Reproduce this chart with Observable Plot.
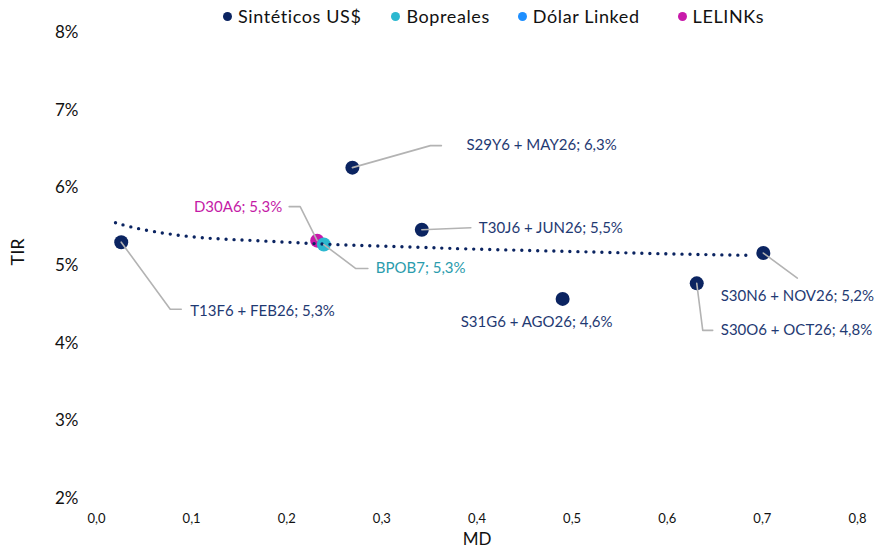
<!DOCTYPE html>
<html>
<head>
<meta charset="utf-8">
<script src="https://cdn.jsdelivr.net/npm/d3@7"></script>
<script src="https://cdn.jsdelivr.net/npm/@observablehq/plot@0.6"></script>
<style>
  html, body { margin: 0; padding: 0; background: #fff; }
  #wrap { position: relative; width: 879px; height: 549px; font-family: Lato, "Open Sans", sans-serif; }
  #legend { position: absolute; top: 5px; left: 223px; display: flex; font-size: 18px; letter-spacing: 0.6px; color: #111; white-space: nowrap; }
  #legend .item { display: flex; align-items: center; gap: 6px; }
  #legend .sw { width: 9px; height: 9px; border-radius: 50%; display: inline-block; }
</style>
</head>
<body>
<div id="wrap"><div id="legend"></div><div id="chart"></div></div>
<script>
// ---- data ----
const names  = ["T13F6 + FEB26", "S29Y6 + MAY26", "D30A6", "BPOB7", "T30J6 + JUN26", "S31G6 + AGO26", "S30O6 + OCT26", "S30N6 + NOV26"];
const md     = [0.026, 0.269, 0.232, 0.239, 0.342, 0.490, 0.631, 0.701];
const tir    = [5.30, 6.26, 5.32, 5.27, 5.46, 4.57, 4.77, 5.16];
const groups = ["Sintéticos US$", "Sintéticos US$", "LELINKs", "Bopreales", "Sintéticos US$", "Sintéticos US$", "Sintéticos US$", "Sintéticos US$"];

const seriesNames  = ["Sintéticos US$", "Bopreales", "Dólar Linked", "LELINKs"];
const seriesColors = ["#0b2461", "#2cb8d0", "#1e8fff", "#c81aaa"];
const labelColors  = ["#1f3a73", "#2a9cad", "#1e8fff", "#c41aa6"];

// trend line
const trendMD  = [0.02, 0.05, 0.10, 0.15, 0.20, 0.25, 0.30, 0.35, 0.40, 0.50, 0.60, 0.69];
const trendTIR = [5.55, 5.46, 5.37, 5.33, 5.30, 5.27, 5.25, 5.23, 5.21, 5.18, 5.15, 5.13];

const xTicks = [0, 0.1, 0.2, 0.3, 0.4, 0.5, 0.6, 0.7, 0.8];
const yTicks = [2, 3, 4, 5, 6, 7, 8];

// label layout (pixel offsets from each point): leader vertices, text position, anchor
const layout = [
  {leader: [[49, 67], [60, 67]], text: [69, 69], anchor: "start"},
  {leader: [[78, -22], [89, -22]], text: [114, -22], anchor: "start"},
  {leader: [[-17, -34], [-28, -34]], text: [-35, -33], anchor: "end"},
  {leader: [[32, 24], [44, 24]], text: [52, 24], anchor: "start"},
  {leader: [[49, -2]], text: [57, -2], anchor: "start"},
  {leader: [], text: [-26, 23], anchor: "middle"},
  {leader: [[6, 47], [16, 47]], text: [24, 47], anchor: "start"},
  {leader: [[34, 25]], text: [34, 43], anchor: "middle"}
];

// ---- build ----
const W = 879, H = 549, mL = 96, mR = 22, mT = 32, mB = 51;
const xDom = [0, 0.8], yDom = [2, 8];
const kx = (xDom[1] - xDom[0]) / (W - mL - mR);
const ky = (yDom[1] - yDom[0]) / (H - mT - mB);

const colorOf = g => seriesColors[seriesNames.indexOf(g)];
const labelColorOf = g => labelColors[seriesNames.indexOf(g)];
const fmt1 = v => v.toFixed(1).replace(".", ",");

const points = names.map((n, i) => ({name: n, md: md[i], tir: tir[i], group: groups[i]}));
const trend = trendMD.map((x, i) => ({md: x, tir: trendTIR[i]}));

const leaderSegs = [];
const labels = [];
points.forEach((p, i) => {
  const L = layout[i];
  const verts = [[0, 0], ...L.leader].map(([dx, dy]) => ({md: p.md + dx * kx, tir: p.tir - dy * ky, id: i}));
  if (verts.length > 1) leaderSegs.push(...verts);
  labels.push({
    md: p.md + L.text[0] * kx, tir: p.tir - L.text[1] * ky,
    text: `${p.name}; ${fmt1(p.tir)}%`, anchor: L.anchor, color: labelColorOf(p.group)
  });
});

const textMarks = ["start", "middle", "end"].map(a =>
  Plot.text(labels.filter(d => d.anchor === a), {
    x: "md", y: "tir", text: "text", fill: "color", textAnchor: a,
    fontSize: 15, fontFamily: "Lato, sans-serif", style: {letterSpacing: "0.2px"}
  })
);

const chart = Plot.plot({
  width: W, height: H,
  marginLeft: mL, marginRight: mR, marginTop: mT, marginBottom: mB,
  style: {fontFamily: "Lato, sans-serif", background: "#fff", color: "#111"},
  x: {domain: xDom, ticks: xTicks, tickFormat: fmt1, label: null},
  y: {domain: yDom, ticks: yTicks, tickFormat: d => d + "%", label: null},
  marks: [
    Plot.axisX({ticks: xTicks, tickFormat: fmt1, tickSize: 0, tickPadding: 15, fontSize: 13}),
    Plot.axisY({ticks: yTicks, tickFormat: d => d + "%", tickSize: 0, tickPadding: 18, fontSize: 17}),
    Plot.text(["MD"], {frameAnchor: "bottom", dy: 46, fontSize: 17, text: d => d}),
    Plot.text(["TIR"], {frameAnchor: "left", dx: -78, rotate: -90, fontSize: 18, text: d => d}),
    Plot.dot(points, {x: "md", y: "tir", r: 7, fill: d => colorOf(d.group)}),
    Plot.line(trend, {x: "md", y: "tir", stroke: "#0b2461", strokeWidth: 3.4, strokeDasharray: "0 8", strokeLinecap: "round", curve: "natural"}),
    Plot.line(leaderSegs, {x: "md", y: "tir", z: "id", stroke: "#b3b3b3", strokeWidth: 1.6}),
    ...textMarks
  ]
});
document.getElementById("chart").appendChild(chart);

// legend
const leg = document.getElementById("legend");
const legGaps = [0, 30, 28, 38];
seriesNames.forEach((n, i) => {
  const it = document.createElement("div");
  it.className = "item";
  it.style.marginLeft = legGaps[i] + "px";
  it.innerHTML = `<span class="sw" style="background:${seriesColors[i]}"></span><span>${n}</span>`;
  leg.appendChild(it);
});
</script>
</body>
</html>
